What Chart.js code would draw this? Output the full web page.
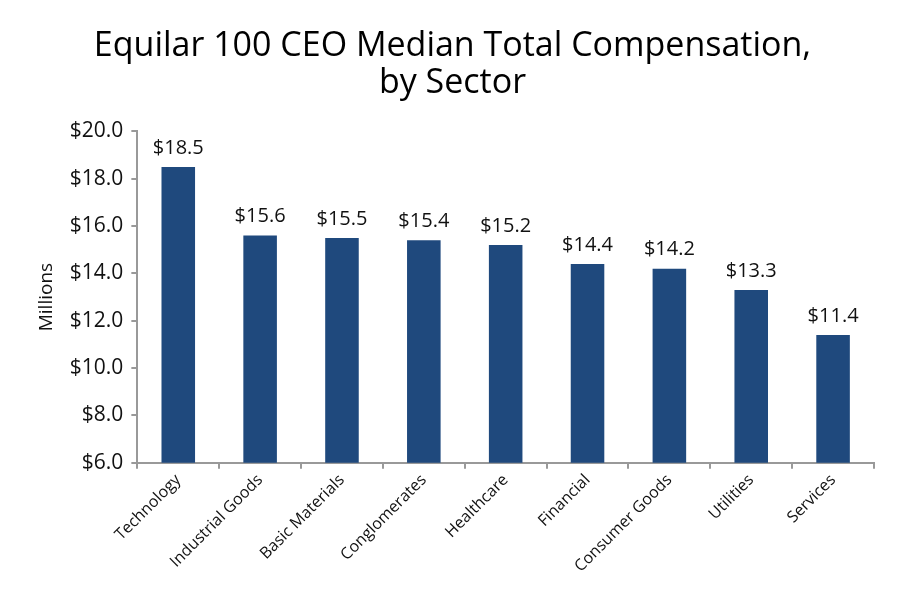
<!DOCTYPE html>
<html>
<head>
<meta charset="utf-8">
<script src="https://cdn.jsdelivr.net/npm/chart.js@4.4.0/dist/chart.umd.min.js"></script>
<style>
  html, body { margin: 0; padding: 0; background: #fff; }
  #wrap { width: 900px; height: 600px; position: relative; }
</style>
</head>
<body>
<div id="wrap"><canvas id="chart"></canvas></div>
<script>
const sectors = ['Technology', 'Industrial Goods', 'Basic Materials', 'Conglomerates', 'Healthcare',
                 'Financial', 'Consumer Goods', 'Utilities', 'Services'];
const medianPay = [18.5, 15.6, 15.5, 15.4, 15.2, 14.4, 14.2, 13.3, 11.4];

const fontFamily = "'Open Sans', 'Noto Sans', sans-serif";

// draws the $xx.x value over every bar
const valueLabels = {
    id: 'valueLabels',
    afterDatasetsDraw(chart) {
        const ctx = chart.ctx;
        const meta = chart.getDatasetMeta(0);
        ctx.save();
        ctx.font = '20px ' + fontFamily;
        ctx.fillStyle = '#111';
        ctx.textAlign = 'center';
        ctx.textBaseline = 'bottom';
        meta.data.forEach((bar, i) => {
            ctx.fillText('$' + medianPay[i].toFixed(1), bar.x, bar.y - 9);
        });
        ctx.restore();
    }
};

new Chart(document.getElementById('chart'), {
    type: 'bar',
    data: {
        labels: sectors,
        datasets: [{
            data: medianPay,
            backgroundColor: '#1f497d',
            barPercentage: 0.41,
            categoryPercentage: 1.0
        }]
    },
    options: {
        responsive: true,
        maintainAspectRatio: false,
        animation: false,
        layout: { padding: { left: 31, right: 26, top: 4, bottom: 22 } },
        plugins: {
            legend: { display: false },
            tooltip: { enabled: false },
            title: {
                display: true,
                text: ['Equilar 100 CEO Median Total Compensation,', 'by Sector'],
                color: '#000',
                font: { family: fontFamily, size: 34, weight: 'normal', lineHeight: 1.08 },
                padding: { top: 24, bottom: 30 }
            }
        },
        scales: {
            x: {
                offset: true,
                border: { color: '#999', width: 2 },
                grid: { display: true, drawOnChartArea: false, offset: true, color: '#999', lineWidth: 2, tickLength: 6 },
                ticks: {
                    color: '#111',
                    font: { family: fontFamily, size: 16 },
                    minRotation: 45,
                    maxRotation: 45,
                    padding: 2
                }
            },
            y: {
                min: 6,
                max: 20,
                border: { color: '#999', width: 2 },
                grid: { display: true, drawOnChartArea: false, color: '#999', lineWidth: 2, tickLength: 6 },
                ticks: {
                    stepSize: 2,
                    color: '#111',
                    font: { family: fontFamily, size: 21 },
                    padding: 8,
                    callback: v => '$' + Number(v).toFixed(1)
                },
                title: {
                    display: true,
                    text: 'Millions',
                    color: '#111',
                    font: { family: fontFamily, size: 19 },
                    padding: { bottom: 4 }
                }
            }
        }
    },
    plugins: [valueLabels]
});
</script>
</body>
</html>
